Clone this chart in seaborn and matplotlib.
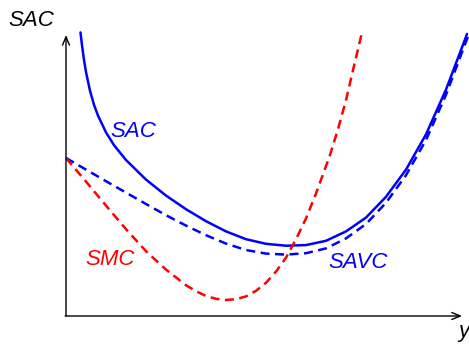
import matplotlib
matplotlib.use("Agg")
import matplotlib.pyplot as plt
import seaborn as sns

sns.set_style("white")
plt.rcParams["font.family"] = ["Liberation Sans", "DejaVu Sans"]

BLUE = "#0000ff"
RED = "#ff0000"

# Short-run average cost (solid)
sac_q = [3.62, 4, 4.5, 5, 6, 7, 8, 10, 12, 15, 20, 25, 30, 35, 40, 45, 50,
         55, 60, 65, 70, 75, 80, 85, 90, 95, 100, 100.25]
sac_c = [70.9, 67.7, 64.0, 61.0, 56.3, 52.8, 50.1, 45.9, 42.7, 39.0, 34.1,
         30.1, 26.7, 23.7, 21.15, 19.2, 18.05, 17.57, 17.73, 18.8, 21.15,
         24.6, 29.8, 36.6, 45.4, 56.6, 69.8, 70.5]

# Short-run average variable cost (dashed)
savc_q = [0, 5, 10, 15, 20, 25, 30, 35, 40, 45, 50, 55, 60, 65, 70, 75, 80,
          85, 90, 95, 100, 100.75]
savc_c = [39.5, 36.6, 33.7, 30.85, 28.0, 25.2, 22.6, 20.2, 18.1, 16.5, 15.6,
          15.35, 15.7, 16.9, 19.4, 23.0, 28.3, 35.2, 44.0, 55.3, 68.6, 70.4]

# Short-run marginal cost (dashed)
smc_q = [0, 5, 10, 15, 20, 25, 30, 32.5, 35, 37.5, 40, 42.5, 45, 47.5, 50,
         52.5, 55, 57.5, 60, 62.5, 65, 66, 68, 70, 72, 73.9]
smc_c = [39.5, 33.6, 27.6, 21.7, 16.2, 11.6, 7.7, 6.2, 5.0, 4.3, 4.0, 4.2,
         4.9, 6.3, 8.3, 11.1, 14.6, 19.2, 24.4, 30.6, 37.5, 40.25, 46.7, 54.0,
         62.5, 70.5]

axis_top = 70.25
axis_right = 99

fig = plt.figure(figsize=(4.69, 3.44), dpi=100)
ax = fig.add_axes([0, 0, 1, 1])
ax.set_xlim(-16.5, 100.75)
ax.set_ylim(-7, 79)
ax.axis("off")

dash = (0, (3.6, 2.2))
sns.lineplot(x=sac_q, y=sac_c, ax=ax, color=BLUE, linewidth=1.8,
             estimator=None, sort=False)
sns.lineplot(x=savc_q, y=savc_c, ax=ax, color=BLUE, linewidth=1.8,
             linestyle=dash, estimator=None, sort=False)
sns.lineplot(x=smc_q, y=smc_c, ax=ax, color=RED, linewidth=1.8,
             linestyle=dash, estimator=None, sort=False)

arrow = dict(arrowstyle="->,head_length=0.6,head_width=0.25", lw=1.0,
             color="black", shrinkA=0, shrinkB=0)
ax.annotate("", xy=(0, axis_top), xytext=(0, 0), arrowprops=arrow)
ax.annotate("", xy=(axis_right, 0), xytext=(-0.2, 0), arrowprops=arrow)

label_font = dict(fontsize=16, family="Liberation Sans", style="italic",
                  va="baseline", ha="left")
ax.text(-14.5, 72.5, "SAC", color="black", **label_font)
ax.text(98, -5.25, "y", color="black", **label_font)
ax.text(11, 44.75, "SAC", color=BLUE, **label_font)
ax.text(4.75, 12.75, "SMC", color=RED, **label_font)
ax.text(65.5, 12, "SAVC", color=BLUE, **label_font)

fig.savefig("out.png", dpi=100)
